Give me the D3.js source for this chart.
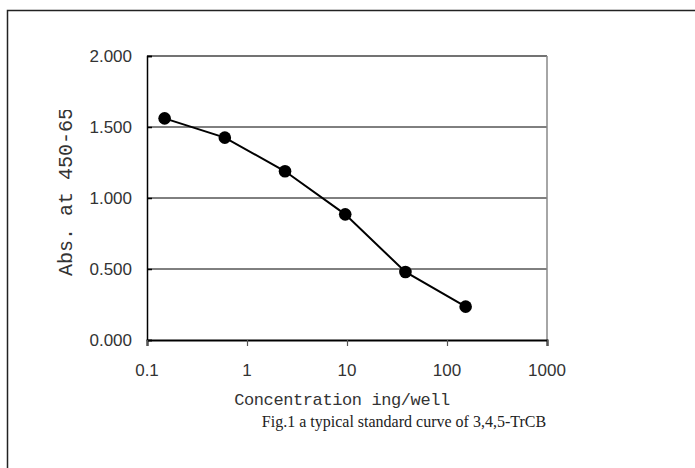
<!DOCTYPE html>
<html><head><meta charset="utf-8">
<script src="https://cdn.jsdelivr.net/npm/d3@7"></script>
<style>body{margin:0;background:#fff;} svg{display:block;}</style>
</head><body>
<script>
const concentrations = [0.15, 0.6, 2.4, 9.6, 38.4, 153.6];
const absorbance = [1.561, 1.425, 1.188, 0.885, 0.479, 0.235];
const xTicks = [0.1, 1, 10, 100, 1000];
const xTickLabels = ["0.1", "1", "10", "100", "1000"];
const yTicks = [0, 0.5, 1.0, 1.5, 2.0];
const yTickLabels = ["0.000", "0.500", "1.000", "1.500", "2.000"];

const W = 695, H = 468;
const svg = d3.select("body").append("svg").attr("width", W).attr("height", H);

// outer frame
svg.append("rect").attr("x", 7.5).attr("y", 10.5).attr("width", 720).attr("height", 480)
  .attr("fill", "none").attr("stroke", "#222").attr("stroke-width", 1.5);

const L = 147, R = 547, T = 56, B = 340;
const x = d3.scaleLog().domain([0.1, 1000]).range([L, R]);
const y = d3.scaleLinear().domain([0, 2]).range([B, T]);

// gridlines
svg.append("g").selectAll("line").data(yTicks.filter(d => d > 0 && d < 2)).join("line")
  .attr("x1", L).attr("x2", R).attr("y1", d => y(d)).attr("y2", d => y(d))
  .attr("stroke", "#000").attr("stroke-width", 1);

// top & right frame
svg.append("line").attr("x1", L).attr("x2", R).attr("y1", T).attr("y2", T)
  .attr("stroke", "#444").attr("stroke-width", 1.5);
svg.append("line").attr("x1", R).attr("x2", R).attr("y1", T).attr("y2", B)
  .attr("stroke", "#888").attr("stroke-width", 1.5);

// y axis
const yAxis = d3.axisRight(y).tickValues(yTicks).tickSize(5).tickFormat("");
const gy = svg.append("g").attr("transform", `translate(${L},0)`).call(yAxis);
gy.select(".domain").attr("stroke", "#000").attr("stroke-width", 1.5);
gy.selectAll(".tick line").attr("stroke", "#000").attr("stroke-width", 1.5);

// y tick labels
svg.append("g").selectAll("text").data(yTicks).join("text")
  .attr("x", 132).attr("y", d => y(d)).attr("dy", "0.36em")
  .attr("text-anchor", "end").attr("font-family", "Liberation Sans, Arial, sans-serif")
  .attr("font-size", 17).attr("fill", "#333")
  .text((d, i) => yTickLabels[i]);

// x axis
const xAxis = d3.axisBottom(x).tickValues(xTicks).tickSize(6).tickFormat("");
const gx = svg.append("g").attr("transform", `translate(0,${B})`).call(xAxis);
gx.select(".domain").attr("stroke", "#000").attr("stroke-width", 2);
gx.selectAll(".tick line").attr("stroke", "#555").attr("stroke-width", 1.2);

svg.append("g").selectAll("text").data(xTicks).join("text")
  .attr("x", d => x(d)).attr("y", 370).attr("dy", "0.36em")
  .attr("text-anchor", "middle").attr("font-family", "Liberation Sans, Arial, sans-serif")
  .attr("font-size", 17).attr("fill", "#333")
  .text((d, i) => xTickLabels[i]);

// x axis title
svg.append("text").attr("x", 342).attr("y", 399).attr("dy", "0.36em")
  .attr("text-anchor", "middle").attr("font-family", "Liberation Mono, monospace")
  .attr("font-size", 17).attr("fill", "#333").attr("letter-spacing", -0.4)
  .text("Concentration  ing/well ");

// y axis title (clipped at top)
svg.append("clipPath").attr("id", "yclip").append("rect")
  .attr("x", 40).attr("y", 110).attr("width", 60).attr("height", 200);
svg.append("g").attr("clip-path", "url(#yclip)")
  .append("text")
  .attr("transform", `translate(65,${276}) rotate(-90)`)
  .attr("text-anchor", "start").attr("dy", "0.36em")
  .attr("font-family", "Liberation Mono, monospace")
  .attr("font-size", 20).attr("fill", "#333")
  .text("Abs. at 450-650nm");

// title
svg.append("text").attr("x", 404).attr("y", 421).attr("dy", "0.36em")
  .attr("text-anchor", "middle").attr("font-family", "Liberation Serif, serif")
  .attr("font-size", 16).attr("fill", "#222")
  .text("Fig.1 a typical standard curve of 3,4,5-TrCB");

// line & points
const pts = concentrations.map((c, i) => [c, absorbance[i]]);
svg.append("path").datum(pts)
  .attr("d", d3.line().x(d => x(d[0])).y(d => y(d[1])))
  .attr("fill", "none").attr("stroke", "#000").attr("stroke-width", 2);
svg.append("g").selectAll("circle").data(pts).join("circle")
  .attr("cx", d => x(d[0])).attr("cy", d => y(d[1])).attr("r", 6.3).attr("fill", "#000");
</script>
</body></html>
